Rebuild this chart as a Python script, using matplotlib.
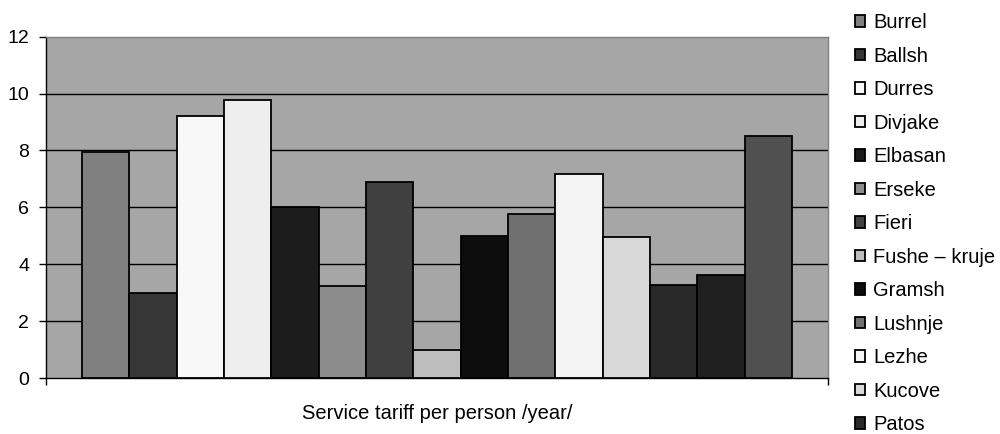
import matplotlib
matplotlib.use("Agg")
import matplotlib.pyplot as plt

plt.rcParams['font.family'] = ['Liberation Sans', 'DejaVu Sans']

# Cities named in the legend (the last two bars carry no legend entry)
cities = ["Burrel", "Ballsh", "Durres", "Divjake", "Elbasan", "Erseke", "Fieri",
          "Fushe \u2013 kruje", "Gramsh", "Lushnje", "Lezhe", "Kucove", "Patos"]
# Service tariff per person per year, one bar per city
tariffs = [7.93, 3.0, 9.21, 9.79, 6.0, 3.22, 6.9, 1.0, 5.0, 5.77, 7.17, 4.96,
           3.28, 3.62, 8.5]
fills = ["#808080", "#363636", "#f8f8f8", "#eeeeee", "#1c1c1c", "#8c8c8c",
         "#404040", "#bdbdbd", "#0d0d0d", "#707070", "#f4f4f4", "#d8d8d8",
         "#292929", "#202020", "#505050"]
y_ticks = [0, 2, 4, 6, 8, 10, 12]
x_label = "Service tariff per person /year/"

fig = plt.figure(figsize=(10, 4.34), dpi=100)
ax = fig.add_axes([0.046, 0.129, 0.782, 0.7865])
ax.set_facecolor("#a6a6a6")

n = len(tariffs)
group = 0.908
w = group / n
handles = []
for i, (v, c) in enumerate(zip(tariffs, fills)):
    x = -group / 2 + w * (i + 0.5)
    b = ax.bar(x, v, width=w, color=c, edgecolor="black", linewidth=1.3, zorder=3)
    handles.append(b.patches[0])

ax.set_xlim(-0.5, 0.5)
ax.set_ylim(0, 12)
ax.set_yticks(y_ticks)
ax.set_yticklabels([str(t) for t in y_ticks], fontsize=14)
ax.set_xticks([-0.5, 0.5])
ax.set_xticklabels(["", ""])
ax.tick_params(axis="both", direction="out", length=5, width=1, colors="black")
ax.tick_params(axis="y", pad=7)
for t in y_ticks[1:-1]:
    ax.axhline(t, color="black", linewidth=1.0, zorder=1)

ax.spines["left"].set_color("black")
ax.spines["bottom"].set_color("black")
ax.spines["top"].set_color("#808080")
ax.spines["right"].set_color("#808080")
for s in ax.spines.values():
    s.set_linewidth(1.0)

ax.set_xlabel(x_label, fontsize=14.5, labelpad=10)

fig.legend(handles[:len(cities)], cities, loc="upper left",
           bbox_to_anchor=(0.847, 0.988), frameon=False, fontsize=14.5,
           handlelength=0.5, handleheight=0.5, handletextpad=0.4,
           labelspacing=0.72, borderaxespad=0)

fig.savefig("out.png", dpi=100)
